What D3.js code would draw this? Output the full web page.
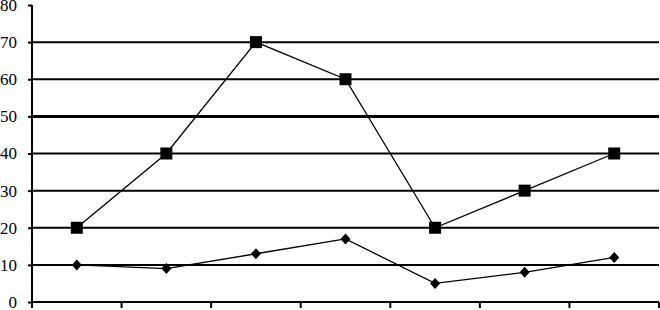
<!DOCTYPE html>
<html>
<head>
<meta charset="utf-8">
<script src="https://cdn.jsdelivr.net/npm/d3@7"></script>
<style>
  body { margin: 0; background: #fff; }
  svg { display: block; }
  .ylab { font-family: "Liberation Serif", "DejaVu Serif", serif; font-size: 17px; }
</style>
</head>
<body>
<div id="chart"></div>
<script>
// data
const categories = ["1", "2", "3", "4", "5", "6", "7"];
const squareValues = [20, 40, 70, 60, 20, 30, 40];
const diamondValues = [10, 9, 13, 17, 5, 8, 12];
const yTicks = [0, 10, 20, 30, 40, 50, 60, 70, 80];

const width = 660, height = 310;
const margin = { top: 5, right: 1, bottom: 8, left: 32 };
const w = width - margin.left - margin.right;
const h = height - margin.top - margin.bottom;

const svg = d3.select("#chart")
    .append("svg")
    .attr("width", width)
    .attr("height", height)
    .append("g")
    .attr("transform", "translate(" + margin.left + "," + margin.top + ")");

const x = d3.scaleBand()
    .domain(categories)
    .range([0, w]);

const y = d3.scaleLinear()
    .domain([0, 80])
    .range([h, 0]);

// gridlines
svg.append("g")
    .selectAll("line")
    .data(yTicks.filter(d => d > 0 && d < 80))
    .join("line")
    .attr("x1", 0)
    .attr("x2", w)
    .attr("y1", d => y(d))
    .attr("y2", d => y(d))
    .attr("stroke", "#000")
    .attr("stroke-width", d => d === 50 ? 3 : 2);

// y axis
const yAxis = svg.append("g")
    .call(d3.axisLeft(y).tickValues(yTicks).tickSize(4).tickPadding(11).tickFormat(d3.format("d")));
yAxis.attr("font-family", null).attr("font-size", null);
yAxis.select(".domain").attr("stroke-width", 2).attr("d", "M0," + h + "V0");
yAxis.selectAll(".tick line").attr("stroke-width", 2);
yAxis.selectAll("text")
    .attr("class", "ylab")
    .attr("fill", "#000");

// x axis
const xAxis = svg.append("g")
    .attr("transform", "translate(0," + h + ")")
    .call(d3.axisBottom(x).tickSize(0).tickFormat(""));
xAxis.select(".domain").attr("stroke-width", 2).attr("d", "M0,0H" + w);
xAxis.selectAll(".sep")
    .data(d3.range(categories.length + 1))
    .join("line")
    .attr("class", "sep")
    .attr("x1", i => i * x.step())
    .attr("x2", i => i * x.step())
    .attr("y1", 0)
    .attr("y2", 6)
    .attr("stroke", "#000")
    .attr("stroke-width", 2);

const cx = (d, i) => x(categories[i]) + x.bandwidth() / 2;

const line = d3.line()
    .x(cx)
    .y(d => y(d));

// square series
svg.append("path")
    .datum(squareValues)
    .attr("d", line)
    .attr("fill", "none")
    .attr("stroke", "#000")
    .attr("stroke-width", 1.3);

svg.selectAll("rect.sq")
    .data(squareValues)
    .join("rect")
    .attr("class", "sq")
    .attr("x", (d, i) => cx(d, i) - 6)
    .attr("y", d => y(d) - 6)
    .attr("width", 12)
    .attr("height", 12)
    .attr("fill", "#000");

// diamond series
svg.append("path")
    .datum(diamondValues)
    .attr("d", line)
    .attr("fill", "none")
    .attr("stroke", "#000")
    .attr("stroke-width", 1.3);

svg.selectAll("path.dm")
    .data(diamondValues)
    .join("path")
    .attr("class", "dm")
    .attr("d", "M0,-5.5L5,0L0,5.5L-5,0Z")
    .attr("transform", (d, i) => "translate(" + cx(d, i) + "," + y(d) + ")")
    .attr("fill", "#000");
</script>
</body>
</html>
